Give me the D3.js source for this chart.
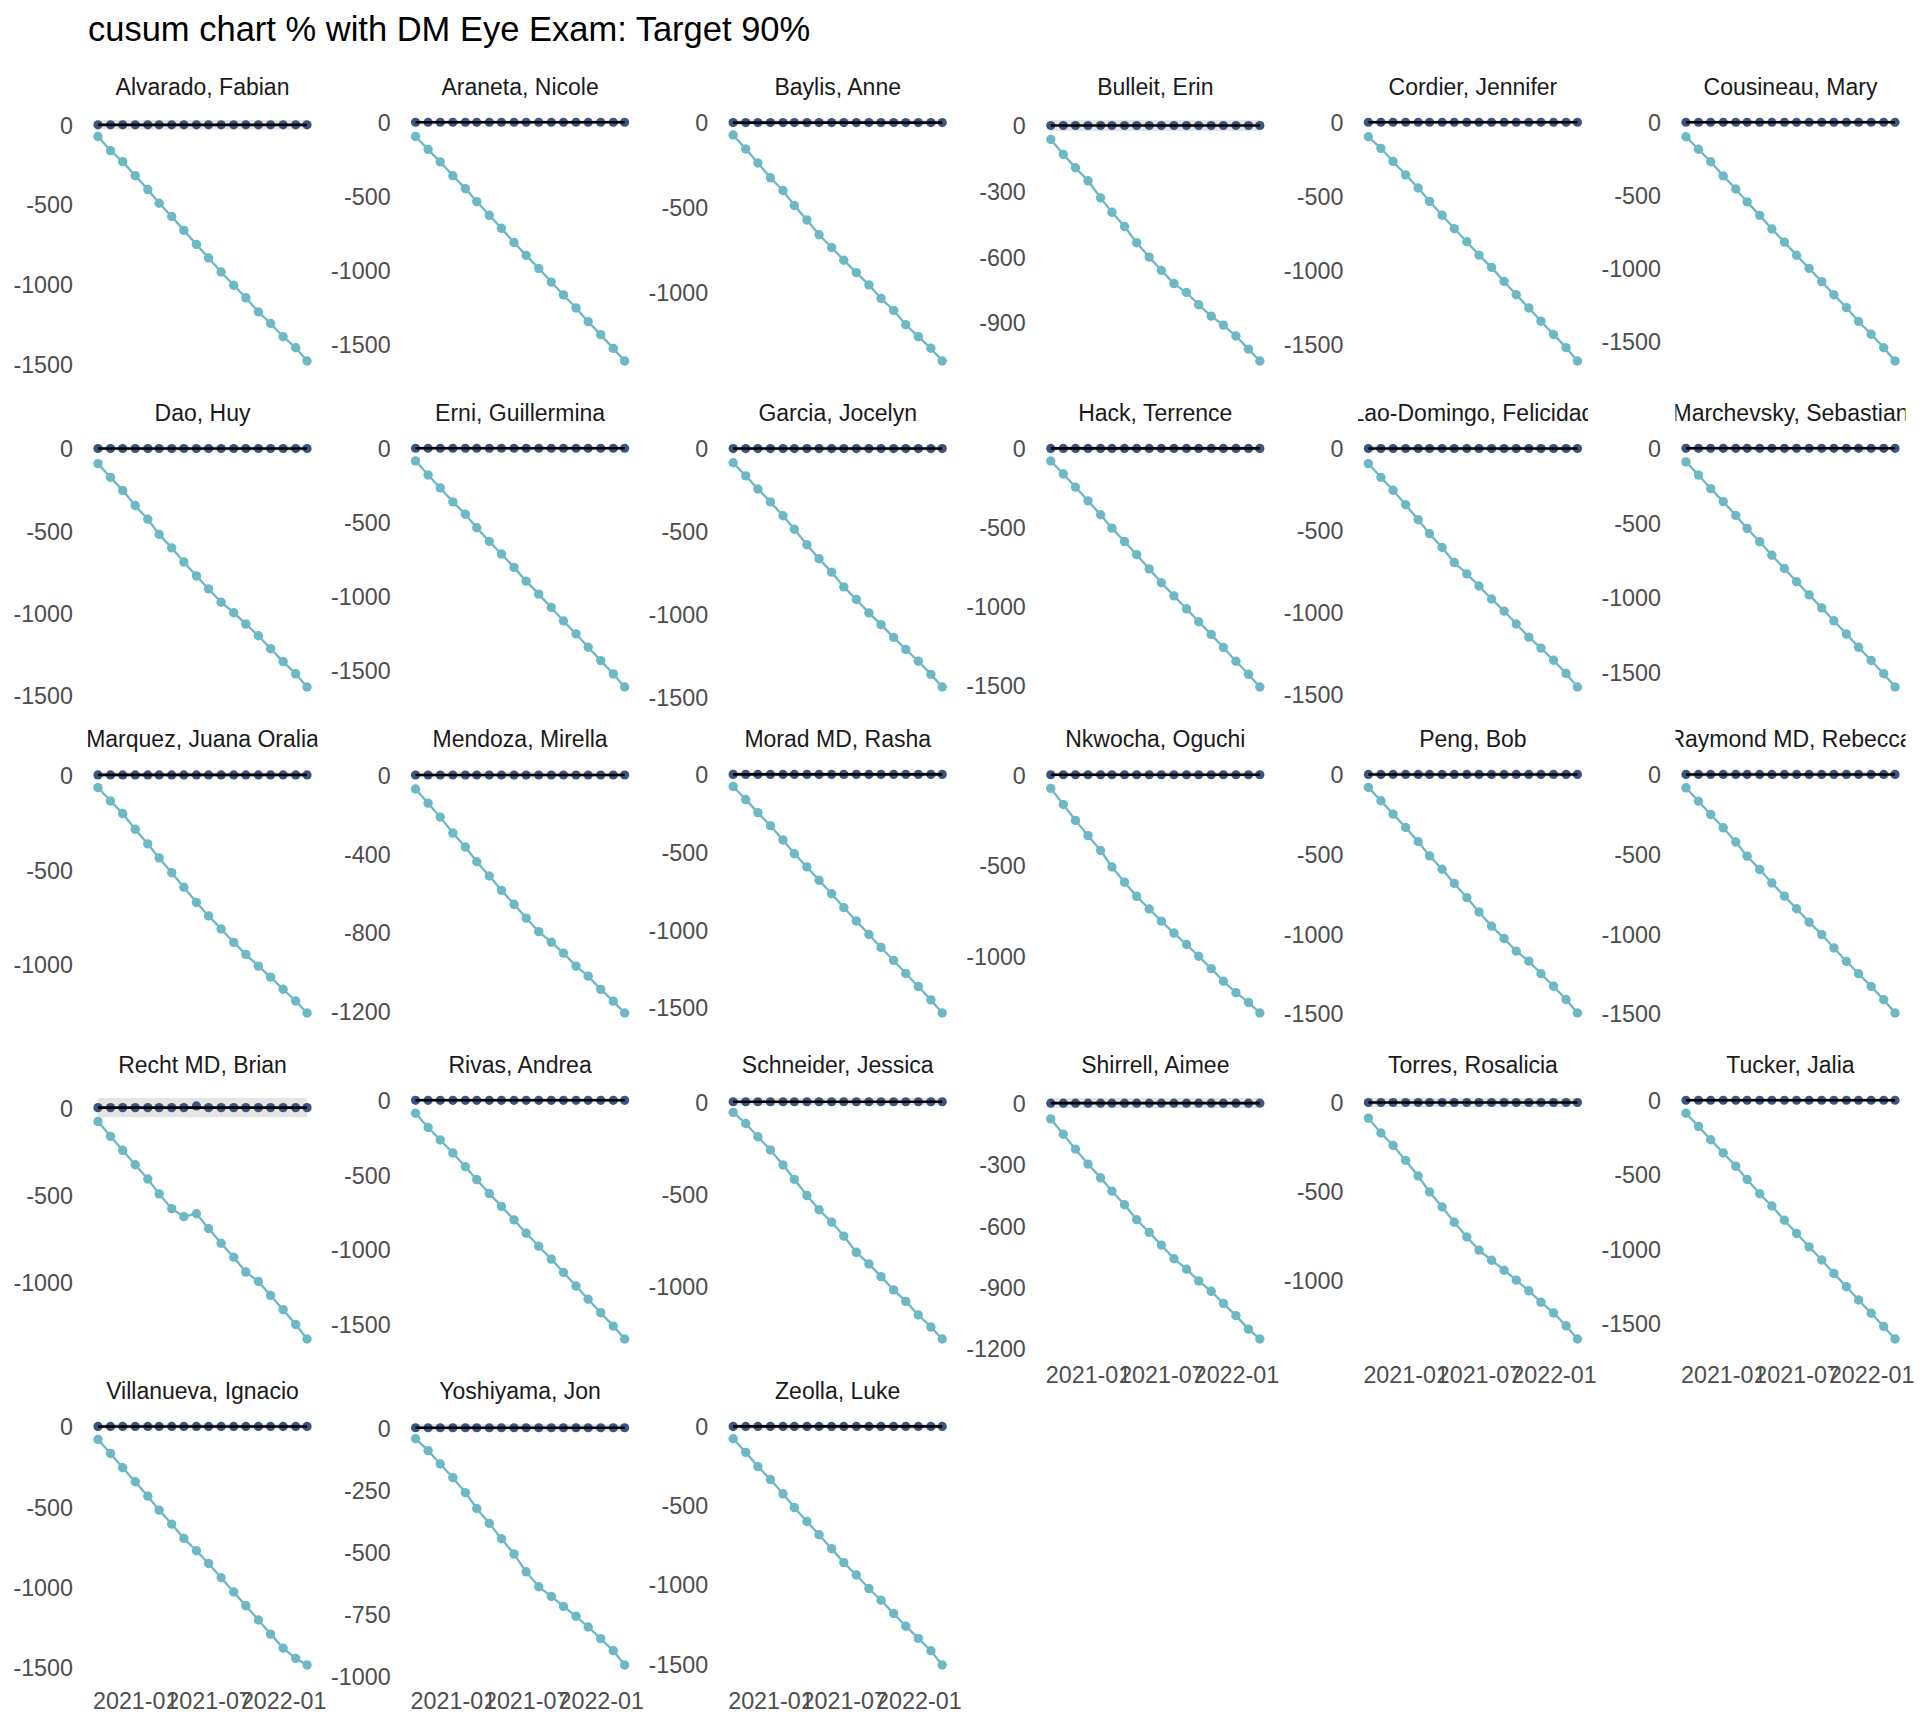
<!DOCTYPE html>
<html>
<head>
<meta charset="utf-8">
<script src="https://cdn.jsdelivr.net/npm/d3@7"></script>
<style>
  body { margin: 0; background: #ffffff; }
  text { font-family: "Liberation Sans", Arial, sans-serif; }
</style>
</head>
<body>
<div id="chart"></div>
<script>
// monthly observation dates
var dates = ["2020-10-01", "2020-11-01", "2020-12-01", "2021-01-01", "2021-02-01", "2021-03-01",
  "2021-04-01", "2021-05-01", "2021-06-01", "2021-07-01", "2021-08-01", "2021-09-01",
  "2021-10-01", "2021-11-01", "2021-12-01", "2022-01-01", "2022-02-01", "2022-03-01"];

var providers = ["Alvarado, Fabian", "Araneta, Nicole", "Baylis, Anne", "Bulleit, Erin",
  "Cordier, Jennifer", "Cousineau, Mary", "Dao, Huy", "Erni, Guillermina", "Garcia, Jocelyn",
  "Hack, Terrence", "Lao-Domingo, Felicidad", "Marchevsky, Sebastian", "Marquez, Juana Oralia",
  "Mendoza, Mirella", "Morad MD, Rasha", "Nkwocha, Oguchi", "Peng, Bob", "Raymond MD, Rebecca",
  "Recht MD, Brian", "Rivas, Andrea", "Schneider, Jessica", "Shirrell, Aimee", "Torres, Rosalicia",
  "Tucker, Jalia", "Villanueva, Ignacio", "Yoshiyama, Jon", "Zeolla, Luke"];

// upper cusum (sits on zero almost everywhere)
var zeros = [0, 0, 0, 0, 0, 0, 0, 0, 0, 0, 0, 0, 0, 0, 0, 0, 0, 0];
var rechtUpper = [0, 0, 0, 0, 0, 0, 0, 0, 10, 0, 0, 0, 0, 0, 0, 0, 0, 0];
var upperCusum = [zeros, zeros, zeros, zeros, zeros, zeros, zeros, zeros, zeros,
  zeros, zeros, zeros, zeros, zeros, zeros, zeros, zeros, zeros,
  rechtUpper, zeros, zeros, zeros, zeros, zeros, zeros, zeros, zeros];

// lower cusum, one row per provider
var lowerCusum = [
  [-73, -162, -231, -319, -406, -492, -575, -662, -750, -835, -923, -1006, -1085, -1173, -1246, -1329, -1398, -1481],
  [-96, -184, -268, -362, -449, -537, -630, -718, -814, -901, -989, -1082, -1169, -1257, -1350, -1438, -1531, -1616],
  [-73, -155, -238, -325, -400, -488, -573, -660, -735, -810, -883, -955, -1035, -1105, -1190, -1260, -1328, -1403],
  [-64, -132, -193, -253, -331, -397, -462, -536, -602, -663, -723, -764, -820, -872, -913, -963, -1023, -1077],
  [-98, -176, -265, -355, -444, -534, -628, -718, -807, -897, -980, -1075, -1165, -1254, -1344, -1433, -1522, -1612],
  [-99, -185, -270, -367, -457, -545, -637, -730, -820, -910, -1000, -1090, -1180, -1268, -1363, -1450, -1543, -1633],
  [-92, -176, -255, -347, -431, -523, -605, -691, -776, -855, -936, -1000, -1069, -1140, -1219, -1298, -1372, -1452],
  [-85, -181, -268, -362, -446, -537, -630, -715, -805, -898, -986, -1076, -1167, -1254, -1345, -1435, -1525, -1613],
  [-86, -165, -244, -322, -406, -487, -581, -665, -746, -835, -911, -992, -1063, -1140, -1213, -1284, -1363, -1439],
  [-80, -162, -245, -332, -420, -505, -590, -673, -763, -851, -934, -1016, -1098, -1178, -1261, -1348, -1431, -1511],
  [-92, -176, -255, -343, -435, -520, -604, -696, -765, -839, -918, -992, -1071, -1151, -1218, -1292, -1373, -1455],
  [-91, -180, -271, -358, -451, -538, -627, -718, -807, -896, -984, -1071, -1158, -1247, -1336, -1424, -1513, -1602],
  [-67, -138, -204, -287, -364, -438, -516, -593, -673, -744, -813, -884, -947, -1009, -1067, -1131, -1193, -1256],
  [-71, -143, -214, -295, -366, -441, -513, -586, -657, -727, -796, -849, -905, -971, -1022, -1089, -1149, -1209],
  [-78, -162, -246, -330, -422, -511, -595, -681, -768, -857, -943, -1030, -1114, -1197, -1281, -1365, -1451, -1535],
  [-75, -164, -252, -336, -418, -509, -593, -671, -741, -808, -874, -937, -1002, -1070, -1140, -1203, -1257, -1315],
  [-81, -165, -249, -333, -422, -511, -595, -684, -773, -863, -952, -1030, -1109, -1172, -1251, -1329, -1413, -1497],
  [-84, -168, -251, -335, -424, -513, -597, -681, -764, -843, -927, -1005, -1089, -1173, -1251, -1330, -1414, -1497],
  [-80, -165, -245, -328, -410, -495, -580, -626, -609, -694, -779, -859, -944, -998, -1078, -1160, -1245, -1328],
  [-87, -182, -266, -353, -445, -532, -625, -711, -801, -891, -978, -1064, -1154, -1244, -1333, -1423, -1513, -1599],
  [-58, -118, -190, -262, -343, -421, -509, -586, -653, -729, -817, -880, -949, -1021, -1083, -1157, -1222, -1287],
  [-77, -152, -225, -298, -365, -430, -497, -570, -632, -694, -761, -812, -869, -920, -979, -1039, -1105, -1153],
  [-88, -172, -242, -326, -414, -504, -588, -674, -757, -831, -888, -944, -1000, -1060, -1124, -1184, -1257, -1331],
  [-87, -176, -266, -355, -445, -534, -630, -713, -809, -898, -988, -1077, -1167, -1257, -1346, -1436, -1525, -1609],
  [-81, -168, -257, -344, -434, -521, -608, -697, -774, -853, -942, -1031, -1116, -1205, -1293, -1380, -1444, -1485],
  [-44, -92, -146, -201, -261, -325, -385, -447, -508, -580, -640, -679, -719, -759, -802, -849, -898, -955],
  [-78, -164, -254, -336, -426, -513, -601, -685, -773, -861, -939, -1025, -1099, -1183, -1263, -1340, -1418, -1508]
];

// half height of the grey band around zero
var bandHalf = [30, 15, 15, 25, 15, 15, 15, 15, 15, 15, 15, 15, 15, 15, 15, 15, 15, 15,
  55, 15, 20, 25, 25, 15, 15, 15, 15];

// y tick labels per panel
var t500 = [0, -500, -1000, -1500];
var t500s = [0, -500, -1000];
var yTicks = [t500, t500, t500s, [0, -300, -600, -900], t500, t500,
  t500, t500, t500, t500, t500, t500,
  t500s, [0, -400, -800, -1200], t500, t500s, t500, t500,
  t500s, t500, t500s, [0, -300, -600, -900, -1200], t500s, t500,
  t500, [0, -250, -500, -750, -1000], t500];

var xTickDates = ["2021-01-01", "2021-07-01", "2022-01-01"];

// layout
var svgWidth = 1920;
var svgHeight = 1728;
var nCols = 6;
var panelW = 230;
var panelH = 265;
var colStep = 317.6;
var rowStep = 326;
var originX = 87.5;
var originY = 108;

var lowerColor = "#6db8c5";
var upperColor = "#3b5580";

var parseDate = d3.timeParse("%Y-%m-%d");
var parsedDates = dates.map(parseDate);

var svg = d3.select("#chart")
  .append("svg")
  .attr("width", svgWidth)
  .attr("height", svgHeight);

svg.append("rect")
  .attr("width", svgWidth)
  .attr("height", svgHeight)
  .attr("fill", "#ffffff");

svg.append("text")
  .attr("x", 88)
  .attr("y", 40.5)
  .attr("font-size", 34.5)
  .attr("fill", "#000000")
  .text("cusum chart % with DM Eye Exam: Target 90%");

// shared x scale (5% expansion like ggplot)
var tMin = parsedDates[0].getTime();
var tMax = parsedDates[parsedDates.length - 1].getTime();
var tPad = (tMax - tMin) * 0.05;
var xScale = d3.scaleTime()
  .domain([new Date(tMin - tPad), new Date(tMax + tPad)])
  .range([0, panelW]);

providers.forEach(function(name, i) {
  var col = i % nCols;
  var row = Math.floor(i / nCols);
  var upper = upperCusum[i];
  var lower = lowerCusum[i];
  var band = bandHalf[i];

  var lo = Math.min(d3.min(lower), -band);
  var hi = Math.max(d3.max(upper), band);
  var pad = (hi - lo) * 0.05;
  var yScale = d3.scaleLinear()
    .domain([lo - pad, hi + pad])
    .range([panelH, 0]);

  var g = svg.append("g")
    .attr("transform", `translate(${originX + col * colStep}, ${originY + row * rowStep})`);

  var pts = parsedDates.map(function(d, k) {
    return { date: d, upper: upper[k], lower: lower[k] };
  });

  // grey band
  g.append("path")
    .datum(pts)
    .attr("fill", "#e5e5e5")
    .attr("d", d3.area()
      .x(d => xScale(d.date))
      .y0(yScale(-band))
      .y1(yScale(band)));

  // y axis
  var ticks = yTicks[i].filter(v => v >= yScale.domain()[0] && v <= yScale.domain()[1]);
  var yAxis = g.append("g")
    .call(d3.axisLeft(yScale)
      .tickValues(ticks)
      .tickSize(0)
      .tickPadding(14.5)
      .tickFormat(d => String(d)));
  yAxis.select(".domain").remove();
  yAxis.selectAll("text")
    .attr("dy", "0.36em")
    .attr("font-size", 23.3)
    .attr("font-family", "Liberation Sans, Arial, sans-serif")
    .attr("fill", "#4d4d4d");

  // x axis only where no panel sits below
  if (i + nCols >= providers.length) {
    var xAxis = g.append("g")
      .attr("transform", `translate(0, ${panelH})`)
      .call(d3.axisBottom(xScale)
        .tickValues(xTickDates.map(parseDate))
        .tickSize(0)
        .tickPadding(15.5)
        .tickFormat(d3.timeFormat("%Y-%m")));
    xAxis.select(".domain").remove();
    xAxis.selectAll("text")
      .attr("font-size", 23.3)
      .attr("font-family", "Liberation Sans, Arial, sans-serif")
      .attr("fill", "#4d4d4d");
  }

  // upper points
  g.append("g").selectAll("circle")
    .data(pts)
    .enter()
    .append("circle")
    .attr("cx", d => xScale(d.date))
    .attr("cy", d => yScale(d.upper))
    .attr("r", 4.6)
    .attr("fill", upperColor);

  // lower line and points
  g.append("path")
    .datum(pts)
    .attr("fill", "none")
    .attr("stroke", lowerColor)
    .attr("stroke-width", 2.3)
    .attr("d", d3.line()
      .x(d => xScale(d.date))
      .y(d => yScale(d.lower)));

  g.append("g").selectAll("circle")
    .data(pts)
    .enter()
    .append("circle")
    .attr("cx", d => xScale(d.date))
    .attr("cy", d => yScale(d.lower))
    .attr("r", 4.7)
    .attr("fill", lowerColor);

  // zero line on top
  g.append("path")
    .datum(pts)
    .attr("fill", "none")
    .attr("stroke", "#000000")
    .attr("stroke-width", 2.6)
    .attr("d", d3.line()
      .x(d => xScale(d.date))
      .y(yScale(0)));

  // strip label, clipped to panel width
  var clipId = "strip-clip-" + i;
  g.append("clipPath")
    .attr("id", clipId)
    .append("rect")
    .attr("x", 0)
    .attr("y", -45)
    .attr("width", panelW)
    .attr("height", 45);

  g.append("text")
    .attr("clip-path", `url(#${clipId})`)
    .attr("x", panelW / 2)
    .attr("y", -13)
    .attr("text-anchor", "middle")
    .attr("font-size", 23)
    .attr("fill", "#1a1a1a")
    .text(name);
});
</script>
</body>
</html>
